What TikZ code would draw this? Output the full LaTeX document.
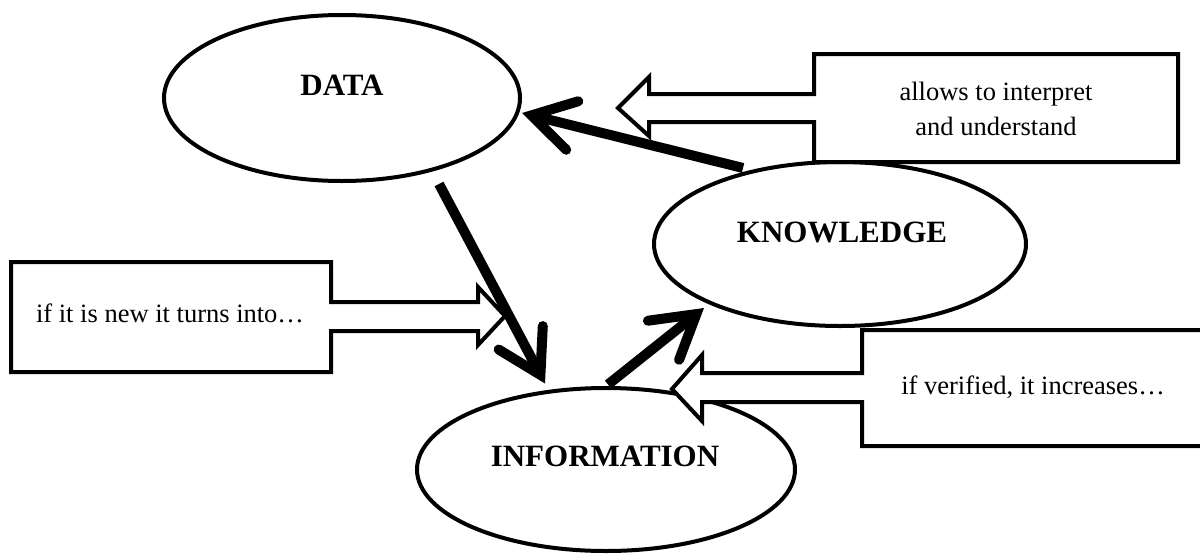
\documentclass[tikz,border=0pt]{standalone}
\usepackage{fontspec}
\setmainfont{Liberation Serif}
\usetikzlibrary{arrows.meta,shapes.geometric}
\begin{document}
\begin{tikzpicture}[x=1pt,y=-1pt,
  oval/.style={ellipse,draw,line width=4pt,fill=white,inner sep=0pt},
  title/.style={font=\fontsize{31}{36}\selectfont\bfseries,inner sep=0pt},
  body/.style={font=\fontsize{26.5}{35}\selectfont,inner sep=0pt,align=center},
  callout/.style={draw,line width=4pt,fill=white,line join=miter},
  flow/.style={line width=10pt,-{Straight Barb[length=42pt,width=50pt,line cap=round]}}]
\clip (0,0) rectangle (1200,555);
\fill[white] (0,0) rectangle (1200,555);
% ellipses
\node[oval,minimum width=356pt,minimum height=166pt] (data) at (342,98) {};
\node[oval,minimum width=372pt,minimum height=164pt] (know) at (840,244) {};
\node[oval,minimum width=378pt,minimum height=163pt] (info) at (606,469.5) {};
\node[title] (tdata) at (342,85) {DATA};
\node[title] (tknow) at (842,232) {KNOWLEDGE};
\node[title] (tinfo) at (605,456) {INFORMATION};
% callouts
\draw[callout] (814,54) -- (1178,54) -- (1178,162) -- (814,162) -- (814,122)
  -- (649,122) -- (649,136) -- (618,108) -- (649,77) -- (649,94) -- (814,94) -- cycle;
\draw[callout] (11,262) -- (331,262) -- (331,302) -- (478,302) -- (478,287)
  -- (505,316) -- (478,345) -- (478,331) -- (331,331) -- (331,372) -- (11,372) -- cycle;
\draw[callout] (862,330) -- (1215,330) -- (1215,446) -- (862,446) -- (862,402)
  -- (702,402) -- (702,421) -- (672,389) -- (702,355) -- (702,373) -- (862,373) -- cycle;
\node[body] (c1) at (996,109) {allows to interpret\\and understand};
\node[body] (c2) at (170,313) {if it is new it turns into…};
\node[body] (c3) at (1033,387) {if verified, it increases…};
% flows
\draw[flow] ([shift={(-97,-76)}]know.center) -- ([shift={(180,15)}]data.center);
\draw[flow] ([shift={(97,86)}]data.center) -- ([shift={(-61,-86)}]info.center);
\draw[flow] ([shift={(2,-85)}]info.center) -- ([shift={(-136,64)}]know.center);
\end{tikzpicture}
\end{document}
